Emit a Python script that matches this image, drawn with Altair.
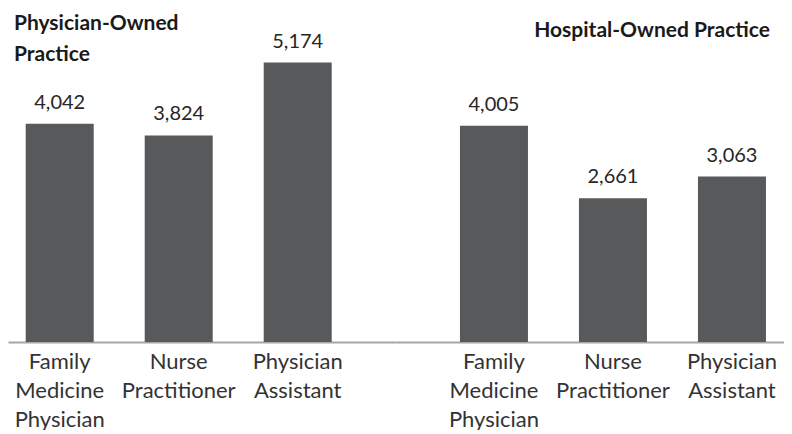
import altair as alt
import pandas as pd

categories = ["Family Medicine Physician", "Nurse Practitioner", "Physician Assistant"]
physician_owned = [4042, 3824, 5174]
hospital_owned = [4005, 2661, 3063]
left_title = "Physician-Owned\nPractice"
right_title = "Hospital-Owned Practice"

BAR = "#58595b"
TXT = "#262626"
FONT = "Lato"
Y_MAX = 6185
H = 334


def panel(values, title, align, title_x, title_y, title_align):
    df = pd.DataFrame({"category": categories, "value": values})
    x = alt.X(
        "category:N",
        sort=categories,
        scale=alt.Scale(paddingInner=0.4286, paddingOuter=0.3445, align=align),
        axis=alt.Axis(
            title=None,
            labelExpr="split(datum.label, ' ')",
            labelAngle=0,
            ticks=False,
            domainColor="#a6a6a6",
            domainWidth=2,
            labelFontSize=22,
            labelFont=FONT,
            labelColor="#333333",
            labelPadding=9,
            labelLineHeight=29,
            labelLimit=0,
        ),
    )
    y = alt.Y("value:Q", scale=alt.Scale(domain=[0, Y_MAX]), axis=None)
    base = alt.Chart(df)
    bars = base.mark_bar(color=BAR).encode(x=x, y=y)
    labels = base.mark_text(
        dy=-15, baseline="alphabetic", fontSize=20, font=FONT, color=TXT
    ).encode(x=x, y=y, text=alt.Text("value:Q", format=","))
    ttl = alt.Chart(pd.DataFrame({"title": [title]})).mark_text(
        align=title_align,
        baseline="alphabetic",
        fontSize=21,
        fontWeight="bold",
        font=FONT,
        color="#1a1a1a",
        lineBreak="\n",
        lineHeight=31,
    ).encode(text="title:N", x=alt.value(title_x), y=alt.value(title_y))
    return alt.layer(bars, labels, ttl).properties(width=388, height=H)


left = panel(physician_owned, left_title, 0.216, 6, 22, "left")
right = panel(hospital_owned, right_title, 0.78, 374, 29, "right")

chart = (
    alt.hconcat(left, right, spacing=0)
    .properties(padding={"left": 0, "top": 0, "right": 0, "bottom": 0})
    .configure_view(stroke=None)
)

chart.save("out.html", embed_options={"renderer": "svg", "actions": False})
